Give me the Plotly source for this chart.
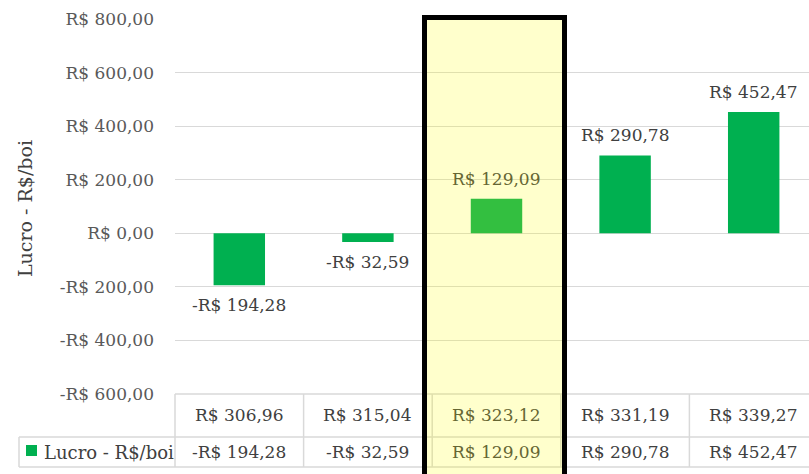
import plotly.graph_objects as go

# Preço de venda (R$/@) e lucro resultante (R$/boi)
precos = [306.96, 315.04, 323.12, 331.19, 339.27]
lucros = [-194.28, -32.59, 129.09, 290.78, 452.47]
serie_nome = "Lucro - R$/boi"
destaque = 2  # cenário destacado
y_ticks = [-600, -400, -200, 0, 200, 400, 600, 800]

FONT = "DejaVu Serif"
TXT = "#404040"
TXT_DEST = "#666633"
VERDE = "#00B050"
GRADE = "#D9D9D9"

W, H = 809, 474
ML, MR, MT, MB = 175, 0, 19, 80
X_RANGE = [-0.5, 4.43]
Y_RANGE = [-600, 800]


def brl(v):
    s = f"{abs(v):,.2f}".replace(",", "X").replace(".", ",").replace("X", ".")
    return ("-R$ " if v < 0 else "R$ ") + s


def px_to_paper_y(py):
    return (H - MB - py) / (H - MT - MB)


def px_to_paper_x(px):
    return (px - ML) / (W - ML - MR)


def cat_to_paper_x(x):
    return (x - X_RANGE[0]) / (X_RANGE[1] - X_RANGE[0])


xs = list(range(len(lucros)))

fig = go.Figure()
fig.add_trace(go.Bar(
    x=xs, y=lucros, name=serie_nome,
    marker=dict(color=VERDE, line=dict(width=0)),
    width=0.4, showlegend=False, hoverinfo="skip",
))

annotations = []
shapes = []

# Rótulos de dados
for i, v in enumerate(lucros):
    annotations.append(dict(
        x=i, y=v, xref="x", yref="y", text=brl(v), showarrow=False,
        yanchor="middle", yshift=20 if v >= 0 else -20,
        font=dict(family=FONT, size=17, color=TXT_DEST if i == destaque else TXT),
    ))

# Tabela de dados abaixo do gráfico
row_top = 0.0
row_mid = px_to_paper_y(437)
row_bot = px_to_paper_y(467)
y_row1 = px_to_paper_y(415)
y_row2 = px_to_paper_y(452)
leg_left = px_to_paper_x(19)

for i, (p, v) in enumerate(zip(precos, lucros)):
    cor = TXT_DEST if i == destaque else TXT
    annotations.append(dict(x=i, y=y_row1, xref="x", yref="paper", text=brl(p),
                            showarrow=False, yanchor="middle",
                            font=dict(family=FONT, size=17, color=cor)))
    annotations.append(dict(x=i, y=y_row2, xref="x", yref="paper", text=brl(v),
                            showarrow=False, yanchor="middle",
                            font=dict(family=FONT, size=17, color=cor)))

line_style = dict(color=GRADE, width=1.5)
for k in range(len(lucros) + 1):
    xp = cat_to_paper_x(k - 0.5)
    shapes.append(dict(type="line", xref="paper", yref="paper",
                       x0=xp, x1=xp, y0=row_top, y1=row_bot, line=line_style))
shapes.append(dict(type="line", xref="paper", yref="paper",
                   x0=0, x1=1.02, y0=row_top, y1=row_top, line=line_style))
for yy in (row_mid, row_bot):
    shapes.append(dict(type="line", xref="paper", yref="paper",
                       x0=leg_left, x1=1.02, y0=yy, y1=yy, line=line_style))
shapes.append(dict(type="line", xref="paper", yref="paper",
                   x0=leg_left, x1=leg_left, y0=row_mid, y1=row_bot, line=line_style))

# Chave da legenda na tabela
shapes.append(dict(type="rect", xref="paper", yref="paper",
                   x0=px_to_paper_x(26), x1=px_to_paper_x(37),
                   y0=px_to_paper_y(456), y1=px_to_paper_y(445),
                   fillcolor=VERDE, line=dict(width=0)))
annotations.append(dict(x=px_to_paper_x(42), y=y_row2, xref="paper", yref="paper",
                        text=serie_nome, showarrow=False, xanchor="left", yanchor="middle",
                        font=dict(family=FONT, size=18, color=TXT)))

# Título do eixo vertical
annotations.append(dict(x=px_to_paper_x(25), y=px_to_paper_y(209), xref="paper", yref="paper",
                        text=serie_nome, showarrow=False, textangle=-90,
                        xanchor="center", yanchor="middle",
                        font=dict(family=FONT, size=19, color=TXT)))

# Coluna destacada
shapes.append(dict(type="rect", xref="paper", yref="paper", layer="above",
                   x0=px_to_paper_x(424.5), x1=px_to_paper_x(564.5),
                   y0=px_to_paper_y(480), y1=px_to_paper_y(17.5),
                   fillcolor="rgba(255,255,0,0.2)",
                   line=dict(color="black", width=5)))

fig.update_layout(
    width=W, height=H,
    margin=dict(l=ML, r=MR, t=MT, b=MB, pad=0),
    paper_bgcolor="white", plot_bgcolor="white",
    font=dict(family=FONT, size=17, color=TXT),
    bargap=0.6,
    xaxis=dict(range=X_RANGE, showticklabels=False, showgrid=False,
               zeroline=False, showline=False, ticks=""),
    yaxis=dict(range=Y_RANGE, tickvals=y_ticks, ticktext=[brl(t) for t in y_ticks],
               showgrid=True, gridcolor=GRADE, gridwidth=1,
               zeroline=True, zerolinecolor=GRADE, zerolinewidth=1,
               showline=False, ticks="", ticklabelstandoff=20,
               tickfont=dict(family=FONT, size=17, color="#595959")),
    annotations=annotations,
    shapes=shapes,
)

fig.write_html("out.html")
